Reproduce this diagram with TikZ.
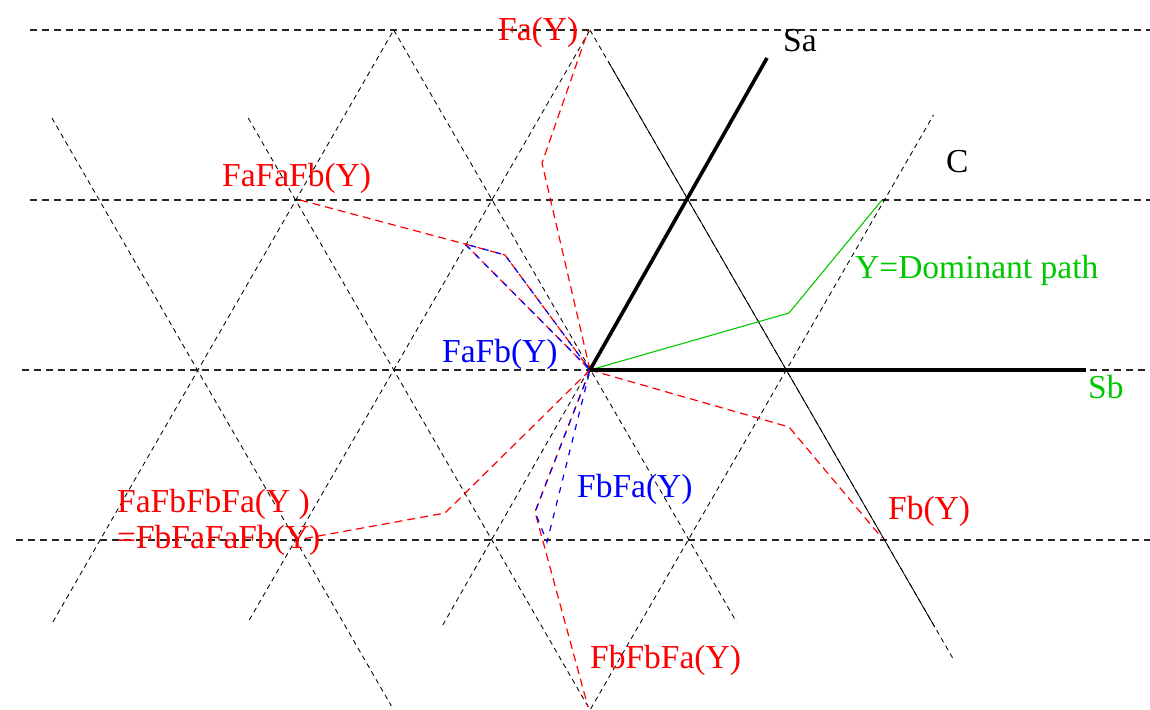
\documentclass[tikz,border=0pt]{standalone}
\usepackage{fontspec}
\setmainfont{Liberation Serif}
\definecolor{grn}{RGB}{0,200,0}
\tikzset{
  hline/.style={black!85,line width=1.1pt,dash pattern=on 7pt off 5pt},
  dline/.style={black,line width=0.85pt,dash pattern=on 5pt off 4pt},
  sline/.style={black,line width=0.8pt},
  rpath/.style={red,line width=1.2pt,dash pattern=on 8pt off 5pt},
  bpath/.style={blue,line width=1.2pt,dash pattern=on 6pt off 7pt,dash phase=-1pt},
  gpath/.style={grn,line width=1.1pt},
  thickax/.style={black,line width=3.6pt},
  lbl/.style={inner sep=0pt,anchor=base west,font=\fontsize{33.5}{38}\selectfont}
}
\begin{document}
\begin{tikzpicture}[x=1pt,y=-1pt]
\useasboundingbox (0,0) rectangle (1150,709);
% horizontal lattice lines
\coordinate (h1l) at (30,30);   \coordinate (h1r) at (1150,30);
\coordinate (h2l) at (30,200);  \coordinate (h2r) at (1150,200);
\coordinate (h3l) at (22,370);  \coordinate (h3r) at (1150,370);
\coordinate (h4l) at (16,540);  \coordinate (h4r) at (1150,540);
\draw[hline] (h1l) -- (h1r);
\draw[hline] (h2l) -- (h2r);
\draw[hline] (h3l) -- (h3r);
\draw[hline] (h4l) -- (h4r);
% diagonal lattice lines
\coordinate (a1) at (52.9,622);  \coordinate (a2) at (393.7,30);
\coordinate (b1) at (249.3,620); \coordinate (b2) at (590,30);
\coordinate (c1) at (442.8,625); \coordinate (c2) at (767,58);
\coordinate (d1) at (590.6,709); \coordinate (d2) at (933.5,115);
\coordinate (f1) at (393.7,30);  \coordinate (f2) at (736.5,622);
\coordinate (g1) at (51.9,118);  \coordinate (g2) at (391.4,706);
\coordinate (k1) at (248.2,118); \coordinate (k2) at (588.3,707);
\coordinate (i1) at (590,30);    \coordinate (i2) at (953.8,660);
\coordinate (s1) at (608.5,62);  \coordinate (s2) at (934.7,627);
\draw[dline] (a1) -- (a2);
\draw[dline] (b1) -- (b2);
\draw[dline] (c1) -- (c2);
\draw[dline] (d1) -- (d2);
\draw[dline] (f1) -- (f2);
\draw[dline] (g1) -- (g2);
\draw[dline] (k1) -- (k2);
\draw[dline] (i1) -- (i2);
\draw[sline] (s1) -- (s2);
% path points
\coordinate (O) at (590,370);
\coordinate (Y1) at (789,313);  \coordinate (Y2) at (882,200);
\coordinate (Fa1) at (542,163); \coordinate (Fa2) at (588,31);
\coordinate (Fb1) at (789,427); \coordinate (Fb2) at (882,538);
\coordinate (P0) at (300,200);  \coordinate (P1) at (465,244); \coordinate (P2) at (505,255);
\coordinate (Q1) at (535,512);  \coordinate (Q2) at (547,542); \coordinate (Q3) at (588,707);
\coordinate (R1) at (445,513);  \coordinate (R2) at (302,539);
\coordinate (SaE) at (767,58);  \coordinate (SbE) at (1086,370);
% red paths
\draw[rpath] (O) -- (Fa1) -- (Fa2);
\draw[rpath] (O) -- (Fb1) -- (Fb2);
\draw[rpath] (P0) -- (P1) -- (O);
\draw[rpath] (P1) -- (P2) -- (O);
\draw[rpath] (O) -- (Q1) -- (Q3);
\draw[rpath] (O) -- (R1) -- (R2);
% blue paths
\draw[bpath] (O) -- (P1) -- (P2) -- (O);
\draw[bpath] (O) -- (Q1) -- (Q2) -- (O);
% green dominant path
\draw[gpath] (O) -- (Y1) -- (Y2);
% axes
\draw[thickax] (O) -- (SaE);
\draw[thickax] (O) -- (SbE);
% labels
\node[lbl,black] (lSa) at (783,52) {Sa};
\node[lbl,black] (lC) at (946,172) {C};
\node[lbl,grn] (lY) at (855,278) {Y=Dominant path};
\node[lbl,grn] (lSb) at (1088,398) {Sb};
\node[lbl,red] (lFa) at (498,41) {Fa(Y)};
\node[lbl,red] (lFb) at (888,519) {Fb(Y)};
\node[lbl,red] (lFFF) at (222,186) {FaFaFb(Y)};
\node[lbl,blue] (lFaFb) at (442,362) {FaFb(Y)};
\node[lbl,blue] (lFbFa) at (577,497) {FbFa(Y)};
\node[lbl,red] (lFbFbFa) at (590,668) {FbFbFa(Y)};
\node[lbl,red] (lL1) at (117,512) {FaFbFbFa(Y )};
\node[lbl,red] (lL2) at (117,548) {=FbFaFaFb(Y)};
\end{tikzpicture}
\end{document}
